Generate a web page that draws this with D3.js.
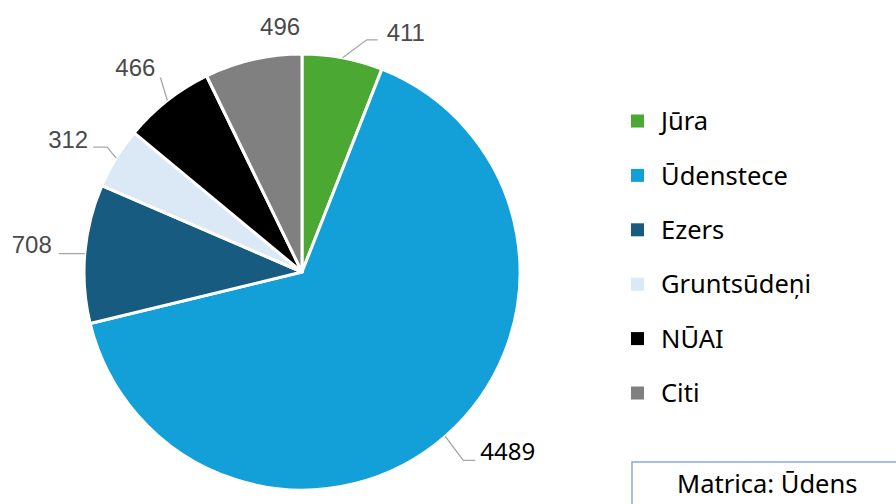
<!DOCTYPE html>
<html>
<head>
<meta charset="utf-8">
<script src="https://cdn.jsdelivr.net/npm/d3@7"></script>
<style>
  body { margin: 0; background: #fff; }
  svg { display: block; }
</style>
</head>
<body>
<div id="chart"></div>
<script>
// data
var categories = ["Jūra", "Ūdenstece", "Ezers", "Gruntsūdeņi", "NŪAI", "Citi"];
var values = [411, 4489, 708, 312, 466, 496];
var colors = ["#4ba833", "#139fd7", "#175b80", "#dbe8f5", "#000000", "#808080"];
var boxTitle = "Matrica: Ūdens";

var width = 896, height = 504;
var cx = 302, cy = 272, radius = 218;

var svg = d3.select("#chart")
    .append("svg")
    .attr("width", width)
    .attr("height", height);

var pieData = d3.pie().sort(null)(values);

var arc = d3.arc().innerRadius(0).outerRadius(radius);

var pie = svg.append("g")
    .attr("transform", `translate(${cx}, ${cy})`);

//slices
pie.selectAll("path")
    .data(pieData)
    .enter()
    .append("path")
    .attr("d", arc)
    .attr("fill", function(d, i) { return colors[i]; })
    .attr("stroke", "#fff")
    .attr("stroke-width", 3)
    .attr("stroke-linejoin", "round");

//label layout: elbow offset from the slice edge, horizontal run, text offset
var labelLayout = {
    "Jūra":        {elbow: [24, -18], run: 11,  text: [9, 1],   anchor: "start"},
    "Ūdenstece":   {elbow: [18, 24],  run: 12,  text: [5, 0],   anchor: "start", color: "#000", font: "'Noto Sans', sans-serif"},
    "Ezers":       {elbow: [0, 0],    run: -26, text: [-7, -1], anchor: "end"},
    "Gruntsūdeņi": {elbow: [-9, -11], run: -14, text: [-5, 1],  anchor: "end"},
    "NŪAI":        {elbow: [-7, -23], run: 0,   text: [-5, -2], anchor: "end"},
    "Citi":        {elbow: null,      run: 0,   text: [27, -25], anchor: "middle"}
};

function edgePoint(d) {
    var a = (d.startAngle + d.endAngle) / 2;
    return [radius * Math.sin(a), -radius * Math.cos(a)];
}

var labels = pie.append("g");

pieData.forEach(function(d, i) {
    var lay = labelLayout[categories[i]];
    var p0 = edgePoint(d);
    var tx, ty;
    if (lay.elbow) {
        var p1 = [p0[0] + lay.elbow[0], p0[1] + lay.elbow[1]];
        var p2 = [p1[0] + lay.run, p1[1]];
        labels.append("polyline")
            .attr("points", [p0, p1, p2].map(function(p) { return p.join(","); }).join(" "))
            .attr("fill", "none")
            .attr("stroke", "#a6a6a6")
            .attr("stroke-width", 1.3);
        tx = p2[0] + lay.text[0];
        ty = p2[1] + lay.text[1];
    } else {
        tx = p0[0] + lay.text[0];
        ty = p0[1] + lay.text[1];
    }
    labels.append("text")
        .attr("x", tx)
        .attr("y", ty)
        .attr("text-anchor", lay.anchor)
        .style("font-family", lay.font || "'Liberation Sans', Arial, sans-serif")
        .style("font-size", "24px")
        .style("fill", lay.color || "#4a4a4a")
        .text(values[i]);
});

//legend
var legendY = d3.scalePoint()
    .domain(categories)
    .range([121, 393]);

var legend = svg.append("g");

legend.selectAll("rect")
    .data(categories)
    .enter()
    .append("rect")
    .attr("x", 631)
    .attr("y", function(d) { return legendY(d) - 6.5; })
    .attr("width", 13)
    .attr("height", 13)
    .attr("fill", function(d, i) { return colors[i]; });

legend.selectAll("text")
    .data(categories)
    .enter()
    .append("text")
    .attr("x", 661)
    .attr("y", function(d) { return legendY(d); })
    .attr("dy", "0.36em")
    .style("font-family", "'Noto Sans', sans-serif")
    .style("font-size", "25.5px")
    .style("fill", "#000")
    .text(function(d) { return d; });

//matrix box bottom right
svg.append("rect")
    .attr("x", 632)
    .attr("y", 462)
    .attr("width", 300)
    .attr("height", 80)
    .attr("fill", "#fff")
    .attr("stroke", "#86abd6")
    .attr("stroke-width", 1.5);

svg.append("text")
    .attr("x", 677)
    .attr("y", 493)
    .style("font-family", "'Noto Sans', sans-serif")
    .style("font-size", "25.5px")
    .style("fill", "#000")
    .text(boxTitle);
</script>
</body>
</html>
